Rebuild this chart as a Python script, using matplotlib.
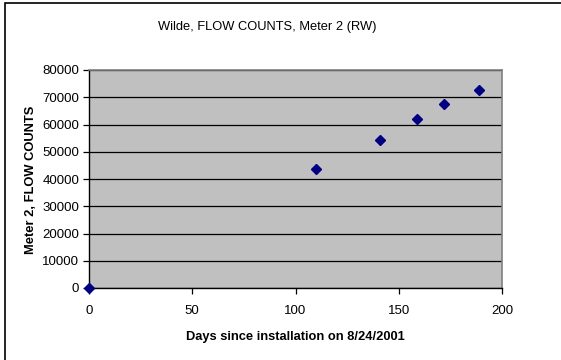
import matplotlib
matplotlib.use('Agg')
import matplotlib.pyplot as plt
from matplotlib.patches import Rectangle

plt.rcParams['font.family'] = ['Liberation Sans', 'DejaVu Sans']

days = [0, 110, 141, 159, 172, 189]
counts = [0, 43600, 54300, 62000, 67400, 72600]
yticks = [0, 10000, 20000, 30000, 40000, 50000, 60000, 70000, 80000]
xticks = [0, 50, 100, 150, 200]

fig = plt.figure(figsize=(5.61, 3.6), dpi=100)
fig.patch.set_facecolor('white')
# outer chart frame (only top/left edges visible in the picture)
fig.patches.append(Rectangle((5/561, -0.1), 1.2, 1.1 - 3/360, transform=fig.transFigure,
                             fill=False, edgecolor='black', linewidth=1.2))

ax = fig.add_axes([89/561, 72/360, 413/561, 218/360])
ax.set_facecolor('#C0C0C0')
ax.set_xlim(0, 200)
ax.set_ylim(0, 80000)
ax.set_xticks(xticks)
ax.set_yticks(yticks)
ax.yaxis.grid(True, color='black', linewidth=0.9)
ax.set_axisbelow(True)

for s in ['top', 'right']:
    ax.spines[s].set_color('#808080')
    ax.spines[s].set_linewidth(1.2)
for s in ['left', 'bottom']:
    ax.spines[s].set_color('black')
    ax.spines[s].set_linewidth(1.0)

ax.tick_params(direction='out', length=4, width=0.9, labelsize=9.5, colors='black', pad=3)
ax.tick_params(axis='x', pad=8)

ax.plot(days, counts, linestyle='none', marker='D', markersize=4.8,
        color='#000080', clip_on=False, zorder=5)

fig.text(267/561, 1 - 27/360, 'Wilde, FLOW COUNTS, Meter 2 (RW)', ha='center', va='center', fontsize=9.3)
fig.text(295/561, 1 - 337/360, 'Days since installation on 8/24/2001', ha='center', va='center',
         fontsize=9.3, fontweight='bold')
fig.text(31/561, 1 - 180/360, 'Meter 2, FLOW COUNTS', ha='center', va='center', rotation=90,
         fontsize=9.3, fontweight='bold')

fig.savefig('out.png', dpi=100)
